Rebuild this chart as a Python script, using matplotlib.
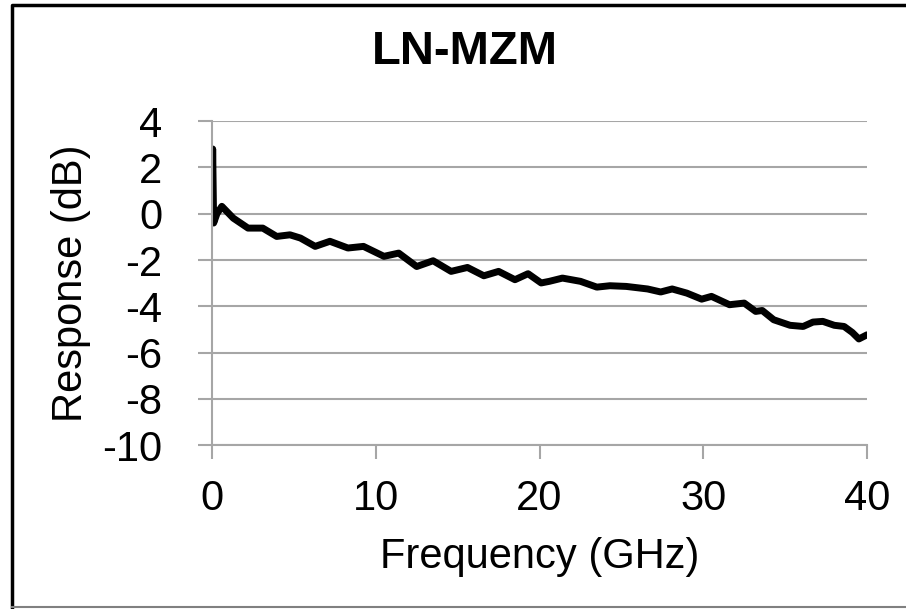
import matplotlib.pyplot as plt
import matplotlib.lines as mlines
import numpy as np

plt.rcParams['font.family'] = ['Liberation Sans', 'DejaVu Sans']
plt.rcParams['axes.unicode_minus'] = False

# response curve
freq = [0.0, 0.04, 0.1, 0.3, 0.6, 1.3, 2.2, 3.1, 3.95, 4.76, 5.4, 6.3, 7.2, 8.3, 9.25,
        10.5, 11.4, 12.5, 13.5, 14.6, 15.6, 16.6, 17.5, 18.5, 19.3, 20.1, 20.6, 21.4,
        22.5, 23.5, 24.3, 25.3, 26.6, 27.4, 28.1, 29.0, 29.9, 30.5, 31.6, 32.5, 33.2,
        33.6, 34.3, 35.3, 36.1, 36.7, 37.3, 38.0, 38.6, 39.1, 39.5, 40.0]
resp = [-0.3, 2.8, -0.4, 0.0, 0.32, -0.19, -0.62, -0.62, -0.98, -0.91, -1.05, -1.41,
        -1.19, -1.48, -1.41, -1.84, -1.70, -2.28, -2.03, -2.49, -2.32, -2.68, -2.49,
        -2.85, -2.59, -2.99, -2.92, -2.78, -2.92, -3.17, -3.11, -3.14, -3.25, -3.38,
        -3.25, -3.43, -3.69, -3.57, -3.93, -3.86, -4.22, -4.18, -4.58, -4.82, -4.87,
        -4.68, -4.65, -4.82, -4.87, -5.13, -5.41, -5.23]

xticks = [0, 10, 20, 30, 40]
yticks = [4, 2, 0, -2, -4, -6, -8, -10]

fig = plt.figure(figsize=(9.06, 6.09), dpi=100)
ax = fig.add_axes([0.234, 0.269, 0.723, 0.532])

ax.plot(freq, resp, color='black', lw=5, solid_joinstyle='round', solid_capstyle='round')

ax.set_xlim(0, 40)
ax.set_ylim(-10, 4)
ax.set_xticks(xticks)
ax.set_yticks(yticks)
ax.yaxis.grid(True, color='#a6a6a6', lw=1.5)
ax.set_axisbelow(True)
for s in ['top', 'right']:
    ax.spines[s].set_visible(False)
for s in ['left', 'bottom']:
    ax.spines[s].set_color('#a6a6a6')
    ax.spines[s].set_linewidth(1.5)
ax.tick_params(axis='both', colors='#a6a6a6', width=1.5, length=10, labelsize=30, labelcolor='black')
ax.tick_params(axis='y', pad=26)
ax.tick_params(axis='x', pad=14)

ax.set_xlabel('Frequency (GHz)', fontsize=30, labelpad=13)
ax.set_ylabel('Response (dB)', fontsize=30, labelpad=8)
fig.text(0.513, 0.914, 'LN-MZM', fontsize=34, fontweight='bold', ha='center', va='center')

# frame around the figure
fig.add_artist(mlines.Line2D([12/906, 12/906, 1.0], [1 - 608/609, 1 - 5/609, 1 - 5/609],
                             transform=fig.transFigure, color='black', lw=2.5))
fig.add_artist(mlines.Line2D([12/906, 1.0], [1 - 607/609, 1 - 607/609],
                             transform=fig.transFigure, color='#808080', lw=1.5))

fig.savefig('out.png', dpi=100)
